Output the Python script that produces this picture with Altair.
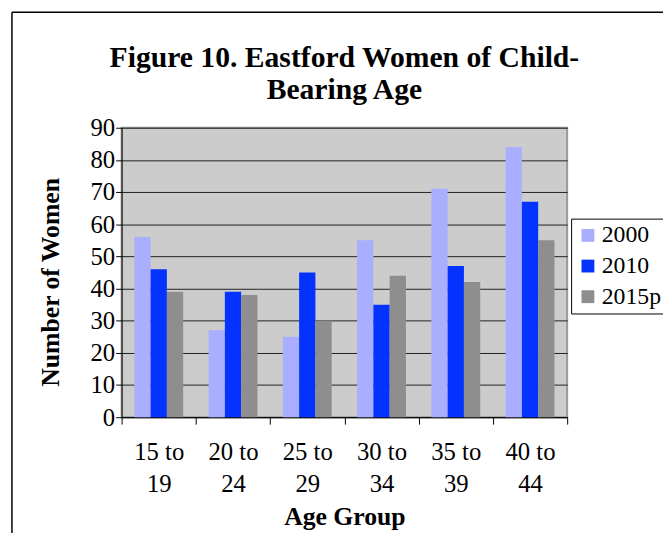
import altair as alt
import pandas as pd

ages = ["15 to 19", "20 to 24", "25 to 29", "30 to 34", "35 to 39", "40 to 44"]
years = ["2000", "2010", "2015p"]
v2000 = [56, 27, 25, 55, 71, 84]
v2010 = [46, 39, 45, 35, 47, 67]
v2015p = [39, 38, 30, 44, 42, 55]
colors = ["#AAAEFF", "#0433FF", "#8E8E8E"]
y_ticks = [0, 10, 20, 30, 40, 50, 60, 70, 80, 90]

rows = []
for yr, vals in zip(years, [v2000, v2010, v2015p]):
    for a, v in zip(ages, vals):
        rows.append({"age": a, "year": yr, "value": v})
df = pd.DataFrame(rows)

FONT = "Liberation Serif"
W, H = 451, 293

bars = alt.Chart(df).mark_bar(strokeWidth=0).encode(
    x=alt.X(
        "age:N",
        sort=ages,
        scale=alt.Scale(paddingInner=0, paddingOuter=0),
        axis=alt.Axis(
            title="Age Group",
            labelAngle=0,
            tickBand="extent",
            labelExpr="[slice(datum.label, 0, 5), slice(datum.label, 6)]",
            labelFont=FONT,
            labelFontSize=25,
            labelColor="black",
            labelLineHeight=32,
            labelPadding=16,
            tickSize=7,
            tickColor="black",
            domainColor="black",
            titleFont=FONT,
            titleFontSize=26,
            titleFontWeight="bold",
            titleColor="black",
            titlePadding=8,
            grid=False,
        ),
    ),
    xOffset=alt.XOffset(
        "year:N", sort=years, scale=alt.Scale(paddingInner=0, paddingOuter=0.78)
    ),
    y=alt.Y(
        "value:Q",
        scale=alt.Scale(domain=[0, 90]),
        axis=alt.Axis(
            title="Number of Women",
            values=y_ticks,
            labelFont=FONT,
            labelFontSize=25,
            labelColor="black",
            labelPadding=1,
            tickSize=6,
            tickColor="black",
            domainColor="black",
            grid=True,
            gridColor="#222222",
            titleFont=FONT,
            titleFontSize=26,
            titleFontWeight="bold",
            titleColor="black",
            titlePadding=27,
            titleY=156,
        ),
    ),
    color=alt.Color(
        "year:N",
        sort=years,
        scale=alt.Scale(domain=years, range=colors),
        legend=alt.Legend(
            title=None,
            orient="none",
            legendX=455,
            legendY=92,
            strokeColor="black",
            fillColor="white",
            padding=5,
            symbolType="square",
            symbolSize=169,
            symbolStrokeWidth=0,
            labelFont=FONT,
            labelFontSize=24,
            labelColor="black",
            labelOffset=2,
            rowPadding=7,
        ),
    ),
)

frame_left = alt.Chart(alt.Data(values=[{}])).mark_rule(
    color="black", strokeWidth=1.5, clip=False
).encode(x=alt.value(-111), y=alt.value(-117), y2=alt.value(420))

frame_top = alt.Chart(alt.Data(values=[{}])).mark_rule(
    color="black", strokeWidth=1.5, clip=False
).encode(x=alt.value(-111), x2=alt.value(600), y=alt.value(-117))

chart = (
    alt.layer(bars, frame_left, frame_top)
    .properties(
        width=W,
        height=H,
        title=alt.TitleParams(
            text=["Figure 10. Eastford Women of Child-", "Bearing Age"],
            font=FONT,
            fontSize=30,
            fontWeight="bold",
            color="black",
            anchor="middle",
            lineHeight=33,
            offset=20,
            dy=115,
            dx=0,
        ),
        autosize=alt.AutoSizeParams(type="none"),
        padding={"left": 115, "top": 118, "right": 97, "bottom": 114},
        background="white",
    )
    .configure_view(fill="#CCCCCC", stroke="#999999", strokeWidth=2)
)

chart.save("out.html", embed_options={"renderer": "svg", "actions": False})
